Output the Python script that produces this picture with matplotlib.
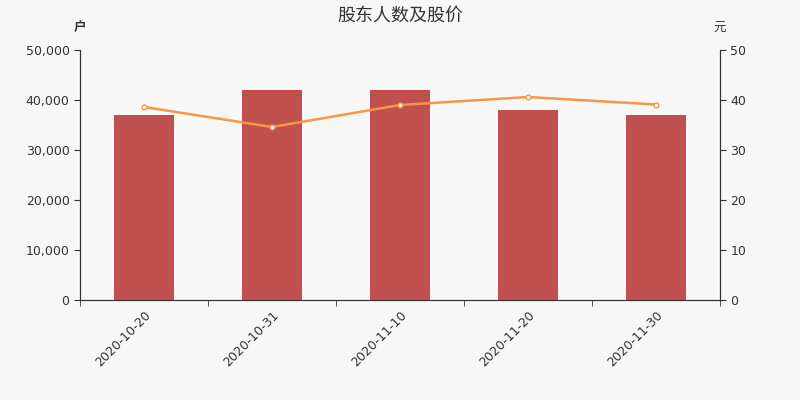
import numpy as np
import matplotlib.pyplot as plt

plt.rcParams['font.family'] = ['DejaVu Sans', 'Noto Sans CJK SC']

dates = ['2020-10-20', '2020-10-31', '2020-11-10', '2020-11-20', '2020-11-30']
holders = [37000, 42000, 42000, 38000, 37000]
price = [38.6, 34.6, 39.0, 40.6, 39.1]

bg = '#f7f7f7'
fig = plt.figure(figsize=(8, 4), dpi=100, facecolor=bg)
ax = fig.add_axes([0.1, 0.25, 0.8, 0.625], facecolor=bg)
x = np.arange(len(dates))
ax.bar(x, holders, width=0.47, color='#c0504d', zorder=2)
ax.set_xlim(-0.5, len(dates) - 0.5)
ax.set_ylim(0, 50000)
ax.set_yticks(np.arange(0, 50001, 10000))
ax.set_yticklabels([f'{v:,}' for v in range(0, 50001, 10000)])
ax.set_xticks(x)
ax.set_xticklabels(dates, rotation=45, ha='right', rotation_mode='anchor')
ax.set_xticks(np.arange(-0.5, len(dates)), minor=True)
ax.tick_params(axis='x', which='major', length=0, pad=6)
ax.tick_params(axis='x', which='minor', length=4, color='#333333')
ax.tick_params(axis='y', length=4, color='#333333')
ax.tick_params(labelsize=9, labelcolor='#333333')
ax.spines['top'].set_visible(False)
for s in ['left', 'bottom', 'right']:
    ax.spines[s].set_color('#333333')

ax2 = ax.twinx()
ax2.plot(x, price, color='#f79646', linewidth=1.8, marker='o', markersize=3.5,
         markerfacecolor='white', markeredgecolor='#f79646', markeredgewidth=1, zorder=3)
ax2.set_ylim(0, 50)
ax2.set_yticks(np.arange(0, 51, 10))
ax2.tick_params(axis='y', length=4, color='#333333', labelsize=9, labelcolor='#333333')
ax2.spines['top'].set_visible(False)
for s in ['left', 'bottom', 'right']:
    ax2.spines[s].set_color('#333333')

fig.text(0.5, 0.962, '股东人数及股价', ha='center', va='center', fontsize=13, color='#333333')
fig.text(0.1, 0.93, '户', ha='center', va='center', fontsize=9, color='#333333', fontweight='bold')
fig.text(0.9, 0.93, '元', ha='center', va='center', fontsize=9, color='#333333')

fig.savefig('out.png', dpi=100, facecolor=bg)
